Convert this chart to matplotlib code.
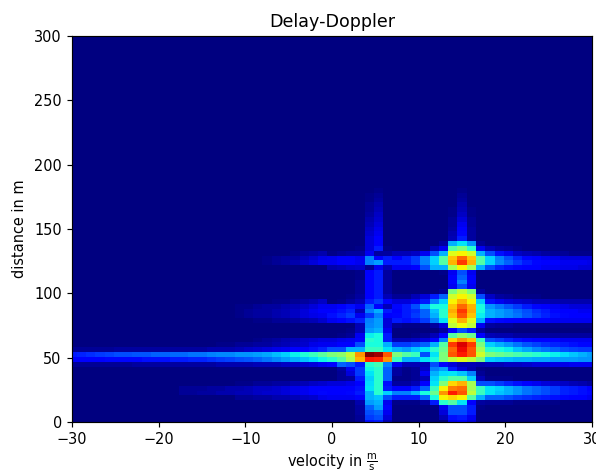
import matplotlib
matplotlib.use("Agg")
import matplotlib.pyplot as plt
import numpy as np

scale = 1.048
plt.rcParams.update({
    "font.size": 10 * scale,
    "axes.linewidth": 0.8 * scale,
    "xtick.major.width": 0.8 * scale,
    "ytick.major.width": 0.8 * scale,
    "xtick.major.size": 3.5 * scale,
    "ytick.major.size": 3.5 * scale,
    "xtick.major.pad": 3.5 * scale,
    "ytick.major.pad": 3.5 * scale,
    "axes.titlepad": 6 * scale,
})

velocity_step = 60 / 56
distance_step = 3.75
velocity_index = np.arange(-28, 29)
distance_index = np.arange(0, 81)

# intensity in percent of the peak; left part: velocity index -28..-1, right part: 0..28
left_rows = {
    5: [0]*18 + [2,2,3,3,4,4,5,6,7,9],
    6: [0]*12 + [2,2,3,3,4,4,5,5,6,7,7,8,9,10,12,13],
    7: [0]*12 + [2,2,2,3,3,4,4,5,6,6,7,8,9,10,11,12],
    8: [0]*18 + [1,1,2,2,3,3,4,5,6,7],
    12: [2,2,2,2,2,2,2,3,3,3,3,3,3,3,3,3,4,4,4,4,5,5,5,6,6,7,8,10],
    13: [12,12,12,12,13,13,13,13,14,14,14,15,15,16,16,17,18,19,20,21,22,24,26,28,30,32,34,37],
    14: [15,16,17,18,19,20,20,21,21,22,22,23,23,24,24,25,26,26,27,27,28,29,31,33,36,39,42,46],
    15: [2,2,2,2,2,3,3,3,3,3,3,3,3,3,3,4,4,4,5,6,7,8,9,10,11,12,14,16],
    16: [0]*16 + [1,1,2,2,3,3,4,5,6,7,9,10],
    17: [0]*20 + [1,2,3,4,5,6,7,8],
    21: [0]*20 + [1,1,2,2,3,4,5,7],
    22: [0]*18 + [1,2,3,3,4,5,6,8,9,10],
    23: [0]*18 + [1,2,3,3,4,5,6,8,10,12],
    24: [0]*18 + [1,1,2,3,3,4,5,6,8,10],
    25: [0]*22 + [1,1,2,3,4,6],
    33: [0]*21 + [1,2,3,4,6,8,10],
    34: [0]*21 + [1,2,3,3,5,7,9],
    35: [0]*24 + [1,2,3,4],
}
right_rows = [
    [0,0,0,2,14,15,5,0,0,0,0,0,0,10,12,8,0,0,0,0,0,0,0,0,0,0,0,0,0],
    [0,0,0,2,18,20,8,0,0,0,0,0,5,14,15,10,0,0,0,0,0,0,0,0,0,0,0,0,0],
    [0,0,0,3,20,22,10,0,0,0,0,0,8,20,20,15,0,0,0,0,0,0,0,0,0,0,0,0,0],
    [0,0,0,3,22,28,12,0,0,0,0,1,10,20,20,15,1,0,0,0,0,0,0,0,0,0,0,0,0],
    [0,0,0,4,28,30,10,1,1,1,3,15,40,45,35,12,3,2,2,2,1,1,1,1,1,0,0,0,0],
    [10,10,10,11,30,32,20,15,15,15,22,38,65,68,65,45,30,22,22,20,18,17,16,15,14,13,12,11,10],
    [12,12,13,15,30,40,33,25,25,30,38,48,75,88,82,58,42,35,32,30,27,24,22,20,18,16,15,14,13],
    [12,12,12,14,35,40,15,12,12,15,22,42,65,78,80,55,42,35,33,30,27,24,22,20,18,16,15,14,12],
    [8,8,9,12,34,40,14,3,3,5,12,35,50,68,72,55,20,20,18,16,14,12,10,8,7,6,5,4,3],
    [0,2,3,15,33,40,22,1,1,2,5,33,40,45,45,33,5,1,1,1,0,0,0,0,0,0,0,0,0],
    [0,2,8,18,35,40,22,3,1,2,10,30,34,35,32,25,2,0,0,0,0,0,0,0,0,0,0,0,0],
    [0,3,10,18,37,40,22,3,1,2,6,25,28,15,8,4,1,0,0,0,0,0,0,0,0,0,0,0,0],
    [12,22,20,15,40,43,25,10,5,5,5,20,12,8,5,5,4,5,5,6,6,7,8,8,9,9,10,10,10],
    [40,45,55,72,88,87,75,42,30,30,35,38,50,58,62,58,50,33,32,31,30,30,29,29,28,28,28,27,27],
    [50,52,58,75,100,97,82,50,45,42,20,35,50,82,88,82,60,50,48,46,44,42,40,38,36,34,32,30,28],
    [20,20,30,30,42,42,35,30,28,32,35,40,48,80,90,82,55,40,38,36,32,29,26,24,22,20,19,18,18],
    [10,12,12,20,38,38,30,18,18,20,22,30,45,85,92,85,50,33,30,27,24,21,19,17,16,15,14,13,13],
    [8,9,10,12,40,38,15,5,5,6,8,12,25,68,75,70,42,20,18,16,14,13,12,11,11,10,10,10,10],
    [0,1,2,10,36,38,15,0,0,1,2,5,12,45,52,48,12,5,4,4,3,3,3,3,3,3,3,3,3],
    [0,0,1,5,28,30,10,0,0,0,0,0,3,12,20,15,3,0,0,0,0,0,0,0,0,0,0,0,0],
    [0,0,0,5,26,28,8,2,1,1,1,3,8,58,64,58,10,3,2,2,1,1,1,1,1,1,1,1,1],
    [10,12,14,16,25,28,8,15,14,15,18,25,35,62,72,62,30,14,13,12,12,11,11,11,10,10,10,10,10],
    [14,16,18,10,18,25,12,13,15,18,22,30,40,70,82,70,36,30,28,26,24,21,18,16,14,13,12,11,11],
    [12,14,16,5,25,30,15,12,15,17,22,32,40,73,85,73,38,30,28,26,23,20,17,15,13,12,11,10,10],
    [10,12,14,10,22,12,5,13,15,20,30,38,38,70,80,72,38,27,24,21,18,15,13,12,10,9,8,8,8],
    [0,1,3,5,15,18,12,8,8,10,15,25,33,65,72,65,33,14,10,8,7,6,5,5,4,4,4,4,4],
    [0,0,1,3,12,15,5,2,2,5,8,15,22,60,65,60,20,6,3,2,1,1,1,0,0,0,0,0,0],
    [0,0,0,2,12,15,3,0,0,0,0,0,2,50,58,50,3,0,0,0,0,0,0,0,0,0,0,0,0],
    [0,0,0,2,12,15,3,0,0,0,0,0,0,10,20,10,0,0,0,0,0,0,0,0,0,0,0,0,0],
    [0,0,0,2,12,15,3,0,0,0,0,0,0,12,25,12,0,0,0,0,0,0,0,0,0,0,0,0,0],
    [0,0,0,1,12,15,3,0,0,0,0,0,0,12,22,12,0,0,0,0,0,0,0,0,0,0,0,0,0],
    [0,0,0,1,12,15,3,0,0,0,0,0,1,10,20,10,0,0,0,0,0,0,0,0,0,0,0,0,0],
    [4,5,6,7,2,10,5,10,10,12,20,30,30,55,65,55,30,20,16,14,13,12,11,10,10,9,9,8,8],
    [10,12,12,10,25,28,15,15,15,18,25,33,45,72,85,72,45,33,26,22,18,15,13,12,11,10,10,10,9],
    [10,12,12,10,25,12,15,12,15,18,25,33,45,70,80,70,45,33,25,20,16,13,11,10,9,8,8,8,8],
    [1,2,3,3,10,3,3,5,5,6,10,20,30,62,65,60,30,20,14,10,6,5,4,3,2,2,1,1,1],
    [0,0,0,1,8,15,1,0,0,0,0,5,10,45,50,40,10,5,3,2,1,0,0,0,0,0,0,0,0],
    [0,0,0,0,8,11,0,0,0,0,0,0,3,30,35,27,2,0,0,0,0,0,0,0,0,0,0,0,0],
    [0,0,0,0,8,11,0,0,0,0,0,0,0,5,15,3,0,0,0,0,0,0,0,0,0,0,0,0,0],
    [0,0,0,0,7,10,0,0,0,0,0,0,0,4,13,3,0,0,0,0,0,0,0,0,0,0,0,0,0],
    [0,0,0,0,6,9,0,0,0,0,0,0,0,3,12,3,0,0,0,0,0,0,0,0,0,0,0,0,0],
    [0,0,0,0,5,8,0,0,0,0,0,0,0,2,10,2,0,0,0,0,0,0,0,0,0,0,0,0,0],
    [0,0,0,0,4,7,0,0,0,0,0,0,0,2,8,2,0,0,0,0,0,0,0,0,0,0,0,0,0],
    [0,0,0,0,3,6,0,0,0,0,0,0,0,1,6,1,0,0,0,0,0,0,0,0,0,0,0,0,0],
    [0,0,0,0,2,5,0,0,0,0,0,0,0,1,5,1,0,0,0,0,0,0,0,0,0,0,0,0,0],
    [0,0,0,0,2,4,0,0,0,0,0,0,0,0,4,0,0,0,0,0,0,0,0,0,0,0,0,0,0],
    [0,0,0,0,1,3,0,0,0,0,0,0,0,0,3,0,0,0,0,0,0,0,0,0,0,0,0,0,0],
    [0,0,0,0,1,2,0,0,0,0,0,0,0,0,2,0,0,0,0,0,0,0,0,0,0,0,0,0,0],
    [0,0,0,0,0,1,0,0,0,0,0,0,0,0,1,0,0,0,0,0,0,0,0,0,0,0,0,0,0],
]

intensity = np.zeros((len(distance_index), len(velocity_index)))
for r, right in enumerate(right_rows):
    intensity[r, 28:] = right
for r, left in left_rows.items():
    intensity[r, :28] = left

x_edges = (np.arange(-28, 30) - 0.5) * velocity_step
y_edges = (np.arange(0, 82) - 0.5) * distance_step

fig = plt.figure(figsize=(5.96, 4.70), dpi=100)
ax = fig.add_axes([72/596, 48/470, 520/596, 386/470])
ax.pcolormesh(x_edges, y_edges, intensity, cmap="jet", vmin=0, vmax=100, shading="flat")
ax.set_xlim(-30, 30)
ax.set_ylim(0, 300)
ax.set_title("Delay-Doppler")
ax.set_xlabel(r"velocity in $\frac{\mathrm{m}}{\mathrm{s}}$", labelpad=3)
ax.set_ylabel("distance in m", labelpad=5)
fig.savefig("out.png", dpi=100)
